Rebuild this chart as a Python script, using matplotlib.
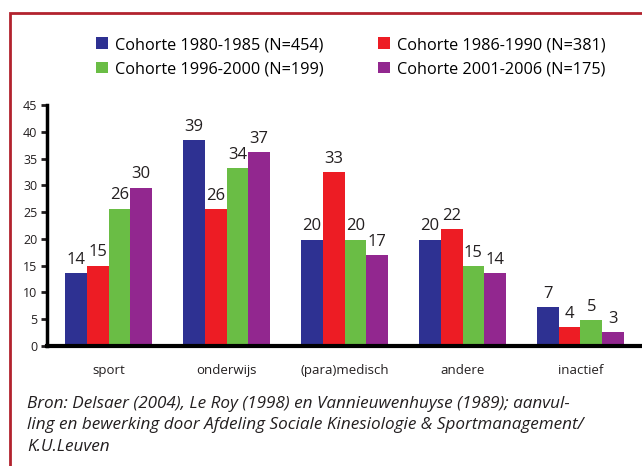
import numpy as np
import matplotlib
matplotlib.use("Agg")
from matplotlib import pyplot as plt
from matplotlib.patches import Rectangle, Patch

plt.rcParams['font.family'] = ['Open Sans', 'DejaVu Sans']

categories = ["sport", "onderwijs", "(para)medisch", "andere", "inactief"]
series = ["Cohorte 1980-1985 (N=454)", "Cohorte 1986-1990 (N=381)",
          "Cohorte 1996-2000 (N=199)", "Cohorte 2001-2006 (N=175)"]
colors = ["#2E3192", "#ED1C24", "#6ABD45", "#92278F"]

# bar heights as drawn, and the printed labels
c1980 = [13.6, 38.4, 19.8, 19.8, 7.2]
c1986 = [15.0, 25.5, 32.4, 21.8, 3.5]
c1996 = [25.6, 33.2, 19.8, 14.9, 4.8]
c2001 = [29.5, 36.2, 16.9, 13.6, 2.6]
lab1980 = ["14", "39", "20", "20", "7"]
lab1986 = ["15", "26", "33", "22", "4"]
lab1996 = ["26", "34", "20", "15", "5"]
lab2001 = ["30", "37", "17", "14", "3"]

values = [c1980, c1986, c1996, c2001]
labels = [lab1980, lab1986, lab1996, lab2001]

fig = plt.figure(figsize=(6.42, 4.66), dpi=100)
W, H = 642., 466.
ax = fig.add_axes([47/W, (H-346)/H, 1 - 47/W + 0.01, 241/H])

x = np.arange(len(categories))
w = 0.184
for i in range(4):
    pos = x + (i - 1.5) * w
    bars = ax.bar(pos, values[i], w, color=colors[i], label=series[i], zorder=2)
    for b, t in zip(bars, labels[i]):
        ax.annotate(t, (b.get_x() + b.get_width()/2, b.get_height()),
                    xytext=(0, 4), textcoords="offset points",
                    ha="center", va="bottom", fontsize=12, color="#231F20")

ax.set_xlim(-0.523, 4.576)
ax.set_ylim(0, 45)
ax.set_yticks(range(0, 46, 5))
ax.set_xticks(x)
ax.set_xticklabels(categories, fontsize=9.5, color="#231F20")
ax.tick_params(axis="x", length=0, pad=13)
ax.tick_params(axis="y", length=4, width=2, labelsize=9, pad=3, colors="#231F20")
for s in ["top", "right"]:
    ax.spines[s].set_visible(False)
ax.spines["left"].set_linewidth(2.5)
ax.spines["bottom"].set_linewidth(3)

# legend rows: 1980 | 1986, 1996 | 2001 (column-wise fill)
order = [0, 2, 1, 3]
handles = [Patch(facecolor=colors[k], edgecolor="none") for k in order]
fig.legend(handles, [series[k] for k in order], loc="upper left",
           bbox_to_anchor=(96/W, 1 - 37/H),
           ncol=2, frameon=False, fontsize=11.7, handlelength=0.75, handleheight=0.75,
           handletextpad=0.45, columnspacing=3.3, labelspacing=0.5,
           borderpad=0, borderaxespad=0)

fig.text(27/W, 1 - 396/H,
         "Bron: Delsaer (2004), Le Roy (1998) en Vannieuwenhuyse (1989); aanvul-\n"
         "ling en bewerking door Afdeling Sociale Kinesiologie & Sportmanagement/\n"
         "K.U.Leuven",
         style="italic", fontsize=12.3, va="top", ha="left", linespacing=1.45,
         color="#231F20")

fig.patches.append(Rectangle((10/W, -0.1), 1.2, (H-13)/H + 0.1, transform=fig.transFigure,
                             fill=False, edgecolor="#B2222E", linewidth=2))

plt.savefig("out.png", dpi=100)
